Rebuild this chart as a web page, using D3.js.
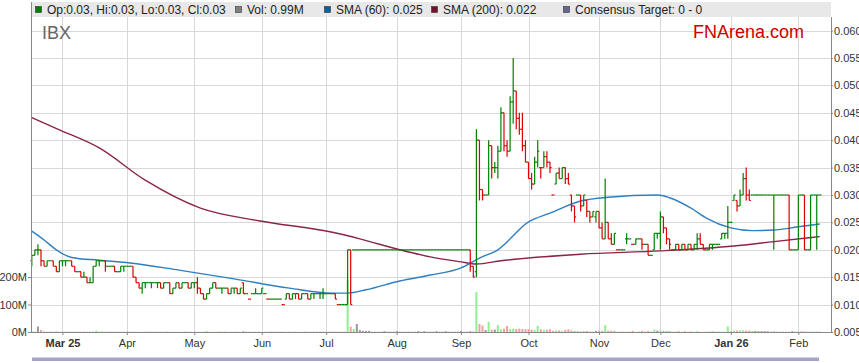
<!DOCTYPE html>
<html>
<head>
<meta charset="utf-8">
<script src="https://cdn.jsdelivr.net/npm/d3@7"></script>
<style>
  body { margin: 0; background: #fff; }
  svg { display: block; font-family: "Liberation Sans", Arial, sans-serif; }
</style>
</head>
<body>
<div id="chart"></div>
<script>
const W = 859, H = 363;
const plot = { left: 31, right: 831, top: 17, bottom: 332 };

// Daily bars (one per weekday from 17 Feb 2025), [open, high, low, close] in thousandths of a dollar
const bars = [
  [18,19,17,19],[19,20,19,20],[20,21,19,20],[20,20,17,18],[18,18,17,17],[17,18,17,18],[18,18,18,18],[18,18,17,17],[17,17,16,16],[16,18,16,18],
  [18,18,17,18],[18,18,17,18],[18,18,18,18],[18,18,17,17],[17,17,16,16],[16,16,16,16],[16,16,15,15],[15,16,15,15],[15,15,14,14],[14,15,14,14],
  [14,17,14,17],[17,18,17,18],[18,18,17,18],[18,18,18,18],[18,18,16,17],[17,17,17,17],[17,17,17,17],[17,17,16,16],[16,16,16,16],[16,17,16,17],
  [17,17,16,17],[17,17,17,17],[17,17,17,17],[17,17,15,15],[15,15,14,14],[14,14,13,13],[13,14,12,14],[14,14,13,14],[14,14,14,14],[14,14,13,14],
  [14,14,14,14],[14,14,13,14],[14,14,13,13],[13,14,13,14],[14,14,14,14],[14,14,12,12],[12,13,12,13],[13,14,13,14],[14,14,13,13],[13,14,13,14],
  [14,14,14,14],[14,14,13,13],[13,14,13,14],[14,14,13,14],[14,15,12,13],[13,13,12,12],[12,12,11,11],[11,12,11,12],[12,13,12,13],[13,14,13,14],
  [14,14,13,13],[13,13,13,13],[13,13,12,13],[13,13,13,13],[13,13,12,12],[12,13,12,13],[13,13,12,13],[13,13,12,12],[12,13,12,13],[14,14,12,12],
  [12,12,12,12],[11,11,11,11],[12,12,12,12],[12,13,12,12],[12,12,12,12],[12,13,12,13],[12,12,12,12],[11,11,11,11],[11,11,11,11],[11,11,11,11],
  [11,11,11,11],[11,11,11,11],[10,10,10,10],[11,12,11,12],[12,12,11,11],[11,12,11,12],[12,12,11,12],[12,12,11,11],[11,12,11,12],[12,12,12,12],
  [12,12,11,11],[11,12,11,12],[12,12,11,12],[12,12,12,12],[12,12,11,12],[12,13,11,12],[12,12,12,12],[12,12,12,12],[12,12,12,12],[12,12,11,11],
  [10,10,10,10],[10,10,10,10],[10,10,10,10],[10,20,10,20],[20,20,10,10],[20,20,20,20],[20,20,20,20],[20,20,20,20],[20,20,20,20],[20,20,20,20],
  [20,20,20,20],[20,20,20,20],[20,20,20,20],[20,20,20,20],[20,20,20,20],[20,20,20,20],[20,20,20,20],[20,20,20,20],[20,20,20,20],[20,20,20,20],
  [20,20,20,20],[20,20,20,20],[20,20,20,20],[20,20,20,20],[20,20,20,20],[20,20,20,20],[20,20,20,20],[20,20,20,20],[20,20,20,20],[20,20,20,20],
  [20,20,20,20],[20,20,20,20],[20,20,20,20],[20,20,20,20],[20,20,20,20],[20,20,20,20],[20,20,20,20],[20,20,20,20],[20,20,20,20],[20,20,20,20],
  [20,20,20,20],[20,20,20,20],[20,20,20,20],[20,20,16,17],[17,17,15,15],[16,42,15,40],[40,40,29,31],[31,31,29,30],[30,30,30,30],[30,40,30,39],
  [39,39,33,35],[35,36,34,35],[35,39,33,38],[38,46,38,45],[45,45,38,39],[39,40,37,38],[38,48,38,47],[47,55,43,49],[49,49,42,44],[44,45,41,42],
  [42,45,38,39],[39,40,36,36],[36,36,33,33],[33,34,31,32],[32,37,32,36],[36,40,35,38],[35,35,33,35],[35,38,35,37],[37,38,35,36],[36,36,34,35],
  [30,30,30,30],[32,34,32,34],[34,35,33,33],[33,35,33,35],[35,35,32,33],[33,34,32,32],[30,30,27,28],[28,28,25,26],[30,30,30,30],[30,30,27,28],
  [28,30,28,30],[29,29,26,27],[27,27,25,26],[26,27,26,27],[26,27,25,27],[27,27,24,24],[24,25,22,22],[22,33,22,25],[25,25,22,22],[22,23,21,21],
  [21,23,21,23],[20,20,20,20],[20,20,20,20],[20,20,20,20],[22,23,21,22],[22,22,22,22],[21,21,21,21],[21,22,21,22],[22,22,22,22],[22,22,20,21],
  [21,21,21,21],[21,21,19,19],[19,19,19,19],[20,23,20,23],[23,23,22,23],[23,27,20,26],[26,26,23,24],[24,24,21,22],[22,22,20,21],[20,20,20,20],
  [20,21,20,21],[21,21,20,20],[20,21,20,21],[21,21,20,20],[20,21,20,21],[21,21,20,20],[20,21,20,21],[21,23,20,22],[22,23,21,21],[21,21,20,20],
  [20,20,20,20],[20,21,20,21],[21,21,20,21],[21,21,21,21],[21,21,21,21],[22,23,22,23],[23,23,22,23],[23,28,22,25],[25,25,25,25],[29,30,29,30],
  [29,29,27,28],[28,31,28,30],[30,34,30,33],[33,35,29,30],[30,31,29,29],[30,30,30,30],[30,30,30,30],[30,30,30,30],[30,30,30,30],[30,30,30,30],
  [30,30,30,30],[30,30,30,30],[30,30,20,30],[30,30,30,30],[30,30,30,30],[30,30,30,30],[30,30,30,30],[30,30,20,20],[20,20,20,20],[20,20,20,20],
  [20,30,20,30],[30,30,30,30],[30,30,20,20],[20,20,20,20],[20,30,20,30],[30,30,30,30],[30,30,20,30],[30,30,30,30]
];

// Daily volume, millions of shares
const volume = [
  3,2,20,7,2,1,1,1,2,1, 1,1,1,1,1,1,1,1,1,1, 2,5,1,1,1,1,1,1,1,1, 1,1,1,1,1,1,1,1,1,1,
  1,1,1,1,1,1,1,1,1,1, 1,1,1,1,1,1,1,4,1,1, 1,1,1,1,1,1,1,1,1,4, 1,1,1,1,1,1,1,1,1,1,
  1,1,1,1,1,1,1,1,1,1, 1,1,1,1,1,1,1,1,1,1, 1,1,1,190,19,11,29,7,4,4, 4,1,1,1,1,3,1,1,1,3,
  1,1,1,1,1,1,3,1,3,1, 1,1,3,1,1,3,1,1,1,1, 4,1,1,4,2,145,29,24,7,37, 9,9,25,10,12,22,11,12,11,12,
  11,10,11,9,8,22,10,8,8,10, 4,6,6,4,8,10,6,4,4,2, 4,4,2,1,4,5,4,25,5,5, 5,1,1,1,1,1,4,1,1,4,
  1,4,1,9,5,6,4,4,4,1, 2,3,1,3,1,2,1,3,1,1, 1,2,2,1,1,1,1,20,2,5, 5,6,6,5,5,4,4,3,3,3,
  3,1,2,1,1,1,1,1,3,1, 2,2,2,1,2,1,1,1
];

const sma60Idx = [0, 4, 8, 13, 22, 32, 48, 66, 84, 98, 103, 109, 120, 130, 140, 146, 152, 162, 169, 179, 188, 204, 208, 215, 220, 228, 235, 242, 250, 257];
const sma60Val = [23.4, 21.8, 20.0, 18.6, 18.1, 17.6, 16.3, 14.7, 13.0, 12.1, 12.1, 12.7, 14.3, 15.4, 16.7, 18.5, 20.0, 25.1, 26.7, 28.9, 29.6, 30.0, 29.5, 27.6, 25.8, 24.0, 23.5, 23.6, 24.2, 24.7];
const sma200Idx = [0, 9, 22, 37, 55, 74, 98, 107, 120, 130, 140, 145, 153, 179, 205, 229, 242, 257];
const sma200Val = [44.1, 41.9, 38.6, 32.7, 27.6, 25.3, 23.2, 22.0, 20.0, 18.7, 17.8, 17.4, 18.0, 19.2, 19.8, 20.7, 21.5, 22.4];

// Axis ticks
const monthIdx = [10, 31, 53, 75, 96, 119, 140, 162, 185, 205, 228, 250];
const monthLabels = ["Mar 25", "Apr", "May", "Jun", "Jul", "Aug", "Sep", "Oct", "Nov", "Dec", "Jan 26", "Feb"];
const priceTicks = [5, 10, 15, 20, 25, 30, 35, 40, 45, 50, 55, 60];
const volumeTicks = [0, 100, 200];

// Legend
const legendLabels = ["Op:0.03, Hi:0.03, Lo:0.03, Cl:0.03", "Vol: 0.99M", "SMA (60): 0.025", "SMA (200): 0.022", "Consensus Target: 0 - 0"];
const legendColors = ["#008000", "#808080", "#0a5fa0", "#7a1030", "#66668f"];
const legendX = [35, 235, 324, 431, 563];

const UP = "#008000", DOWN = "#dd0000";

const svg = d3.select("#chart").append("svg")
  .attr("width", W)
  .attr("height", H);

svg.append("rect").attr("width", W).attr("height", H).attr("fill", "#fff");

// Scales
const xScale = d3.scaleLinear().domain([0, 257]).range([31.8, 819.8]);
const yPrice = d3.scaleLinear().domain([5, 60]).range([332, 30.6]);
const yVol = d3.scaleLinear().domain([0, 200]).range([332, 277]);

// Grid
svg.append("g").selectAll("line")
  .data(priceTicks.slice(1))
  .join("line")
  .attr("x1", plot.left).attr("x2", plot.right)
  .attr("y1", d => Math.round(yPrice(d)) + 0.5).attr("y2", d => Math.round(yPrice(d)) + 0.5)
  .attr("stroke", "#d9d9d9");

svg.append("g").selectAll("line")
  .data(monthIdx)
  .join("line")
  .attr("x1", d => Math.round(xScale(d)) + 0.5).attr("x2", d => Math.round(xScale(d)) + 0.5)
  .attr("y1", plot.top).attr("y2", plot.bottom)
  .attr("stroke", "#d9d9d9");

// Legend bar
svg.append("rect")
  .attr("x", plot.left).attr("y", 2)
  .attr("width", plot.right - plot.left).attr("height", 15)
  .attr("fill", "#e8e8e8");

const legend = svg.append("g");
legendLabels.forEach((label, k) => {
  legend.append("rect")
    .attr("x", legendX[k] + 0.5).attr("y", 6.5)
    .attr("width", 6).attr("height", 6)
    .attr("fill", legendColors[k])
    .attr("stroke", "#333").attr("stroke-width", 0.6);
  legend.append("text")
    .attr("x", legendX[k] + 12).attr("y", 14)
    .attr("font-size", 12).attr("fill", "#222")
    .text(label);
});

// Volume bars
const closeOf = i => bars[i][3];
function dir(i) {
  if (i === 0) return 1;
  return Math.sign(closeOf(i) - closeOf(i - 1));
}

svg.append("g").selectAll("rect")
  .data(volume)
  .join("rect")
  .attr("x", (d, i) => xScale(i) - 1)
  .attr("width", 2)
  .attr("y", d => yVol(d))
  .attr("height", d => yVol(0) - yVol(d))
  .attr("fill", (d, i) => dir(i) > 0 ? "#8ff08f" : dir(i) < 0 ? "#f4a0a0" : "#999");

// Moving averages
const line = d3.line().curve(d3.curveMonotoneX);
svg.append("path")
  .attr("d", line(sma200Idx.map((d, k) => [xScale(d), yPrice(sma200Val[k])])))
  .attr("fill", "none").attr("stroke", "#8a2448").attr("stroke-width", 1.4);
svg.append("path")
  .attr("d", line(sma60Idx.map((d, k) => [xScale(d), yPrice(sma60Val[k])])))
  .attr("fill", "none").attr("stroke", "#2f7fc0").attr("stroke-width", 1.4);

// OHLC bars
const barColor = i => dir(i) < 0 ? DOWN : UP;
const ohlc = svg.append("g").attr("stroke-width", 1.2);
bars.forEach((b, i) => {
  const x = xScale(i);
  const g = ohlc.append("g").attr("stroke", barColor(i));
  if (b[1] !== b[2]) {
    g.append("line").attr("x1", x).attr("x2", x).attr("y1", yPrice(b[1])).attr("y2", yPrice(b[2]));
  }
  g.append("line").attr("x1", x - 1.6).attr("x2", x).attr("y1", yPrice(b[0])).attr("y2", yPrice(b[0]));
  g.append("line").attr("x1", x).attr("x2", x + 1.6).attr("y1", yPrice(b[3])).attr("y2", yPrice(b[3]));
});

// Axes
const axisColor = "#888";
const rightAxis = svg.append("g")
  .attr("transform", `translate(${plot.right},0)`)
  .call(d3.axisRight(yPrice).tickValues(priceTicks).tickFormat(d => (d / 1000).toFixed(3)).tickSize(2).tickPadding(1));
const leftAxis = svg.append("g")
  .attr("transform", `translate(${plot.left},0)`)
  .call(d3.axisLeft(yVol).tickValues(volumeTicks).tickFormat(d => d + "M").tickSize(3).tickPadding(1));
const bottomAxis = svg.append("g")
  .attr("transform", `translate(0,${plot.bottom})`)
  .call(d3.axisBottom(xScale).tickValues(monthIdx).tickFormat((d, k) => monthLabels[k]).tickSize(3).tickPadding(4));

[rightAxis, leftAxis, bottomAxis].forEach(a => {
  a.select(".domain").remove();
  a.selectAll("line").attr("stroke", axisColor);
  a.selectAll("text").attr("font-size", 11).attr("fill", "#333").attr("font-family", "Liberation Sans, Arial, sans-serif");
});
bottomAxis.selectAll("text").attr("font-weight", d => (d === 10 || d === 228) ? "bold" : null);

svg.append("line").attr("x1", plot.left + 0.5).attr("x2", plot.left + 0.5).attr("y1", 2).attr("y2", plot.bottom).attr("stroke", axisColor);
svg.append("line").attr("x1", plot.right + 0.5).attr("x2", plot.right + 0.5).attr("y1", 17).attr("y2", plot.bottom).attr("stroke", axisColor);
svg.append("line").attr("x1", plot.left).attr("x2", plot.right + 1).attr("y1", plot.bottom + 0.5).attr("y2", plot.bottom + 0.5).attr("stroke", axisColor);

// Titles
svg.append("text").attr("x", 42).attr("y", 39).attr("font-size", 18).attr("fill", "#666").text("IBX");
svg.append("text").attr("x", 693).attr("y", 38).attr("font-size", 18).attr("fill", "#cc0000").text("FNArena.com");

// Navigator strip
svg.append("rect").attr("x", 32).attr("y", 357.5).attr("width", 787).attr("height", 3.5).attr("fill", "#a3a3cc");
</script>
</body>
</html>
